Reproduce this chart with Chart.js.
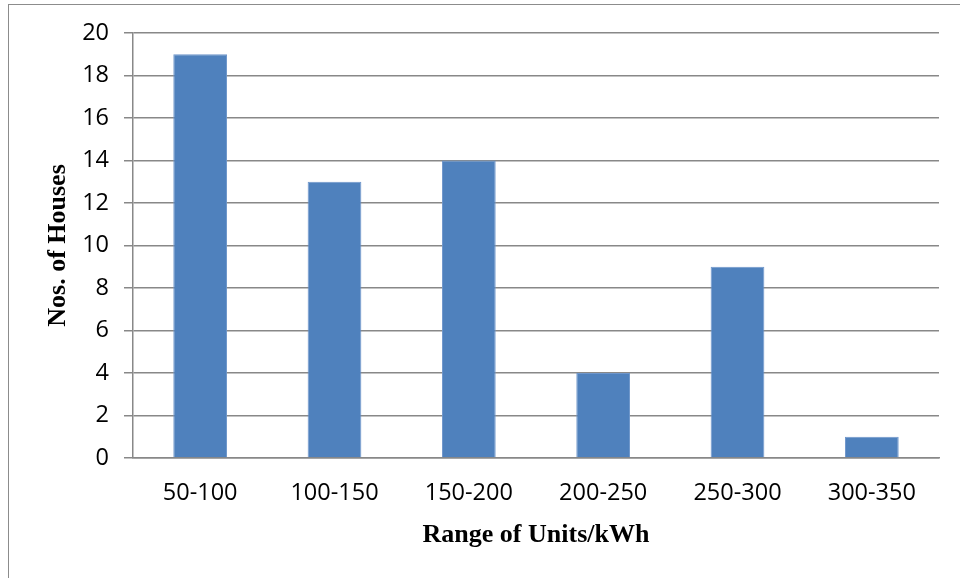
<!DOCTYPE html>
<html>
<head>
<meta charset="utf-8">
<script src="https://cdn.jsdelivr.net/npm/chart.js@4/dist/chart.umd.min.js"></script>
<style>
  html, body { margin: 0; padding: 0; background: #fff; }
  body { width: 960px; height: 578px; position: relative; overflow: hidden; }
  #frame { position: absolute; left: 8px; top: 4px; width: 1200px; height: 1200px; border: 1px solid #8c8c8c; box-sizing: border-box; }
  #wrap { position: absolute; left: 0; top: 0; width: 960px; height: 578px; }
</style>
</head>
<body>
<div id="frame"></div>
<div id="wrap"><canvas id="chart" width="960" height="578"></canvas></div>
<script>
// Number of houses in each monthly consumption band
const ranges = ['50-100', '100-150', '150-200', '200-250', '250-300', '300-350'];
const houses = [19, 13, 14, 4, 9, 1];
const yTicks = [0, 2, 4, 6, 8, 10, 12, 14, 16, 18, 20];

const gridGray = '#888888';
const tickFont = { family: '"Open Sans", sans-serif', size: 23.5 };
const titleFont = { family: '"Liberation Serif", "Times New Roman", serif', size: 26, weight: 'bold' };

new Chart(document.getElementById('chart'), {
  type: 'bar',
  data: {
    labels: ranges,
    datasets: [{
      data: houses,
      backgroundColor: '#4F81BD',
      borderColor: '#6E96CB',
      borderWidth: 1,
      barPercentage: 0.4,
      categoryPercentage: 1.0
    }]
  },
  options: {
    responsive: false,
    animation: false,
    layout: { padding: { left: 0, right: 21, top: 33, bottom: 0 } },
    plugins: { legend: { display: false }, tooltip: { enabled: false } },
    scales: {
      x: {
        grid: { display: true, drawOnChartArea: false, drawTicks: false },
        border: { display: true, color: gridGray, width: 1.5 },
        ticks: { color: '#000', font: tickFont, padding: 21, maxRotation: 0 },
        title: { display: true, text: 'Range of Units/kWh', color: '#000', font: titleFont, padding: { top: 0, bottom: 27 } },
        afterFit: s => { s.height = 120; }
      },
      y: {
        min: 0,
        max: 20,
        afterBuildTicks: s => { s.ticks = yTicks.map(v => ({ value: v })); },
        grid: { color: gridGray, lineWidth: 1.5, tickLength: 9, drawTicks: true },
        border: { display: true, color: gridGray, width: 1.5 },
        ticks: { color: '#000', font: tickFont, padding: 15 },
        title: { display: true, text: 'Nos. of Houses', color: '#000', font: titleFont, padding: { top: 43, bottom: 0 } },
        afterFit: s => { s.width = 133; }
      }
    }
  }
});
</script>
</body>
</html>
